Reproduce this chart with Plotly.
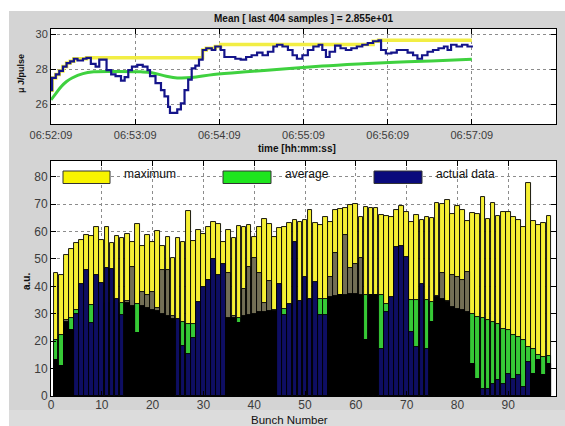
import plotly.graph_objects as go

# ---------------- DATA ----------------
# Top panel: time in seconds after 06:52:09
act_t = [0, 0.8, 3.4, 5.9, 8.5, 11.1, 13.7, 16.3, 18.9, 22.8, 25.3, 28.4, 31.8, 34.4, 37.0, 39.6,
         42.9, 46.0, 49.9, 52.5, 55.1, 57.7, 61.5, 65.4, 68.8, 70.6, 74.5, 78.4, 80.9, 83.5, 84.8,
         87.4, 90.0, 92.6, 95.2, 97.8, 100.3, 102.9, 105.5, 108.1, 110.7, 114.6, 117.1, 121.0,
         123.6, 127.5, 131.4, 135.2, 139.1, 143.0, 146.9, 150.8, 154.6, 158.5, 161.1, 165.0,
         168.9, 172.2, 175.3, 179.2, 183.1, 187.0, 190.8, 193.4, 196.0, 198.6, 202.5, 206.4,
         210.2, 214.1, 218.0, 221.9, 225.8, 229.6, 233.5, 235.3, 238.7, 242.6, 246.5, 250.3,
         254.2, 258.1, 261.2, 264.5, 268.4, 272.3, 276.2, 280.1, 282.7, 285.2, 289.1, 293.0,
         296.9, 300.0]
act_v = [26.8, 27.5, 27.7, 27.9, 28.15, 28.35, 28.45, 28.6, 28.5, 28.6, 28.65, 28.3, 28.15, 28.55,
         28.55, 27.95, 27.7, 27.6, 27.35, 27.55, 27.95, 28.15, 28.25, 28.15, 27.95, 27.6, 27.2,
         26.8, 26.45, 25.85, 25.5, 25.5, 25.7, 26.05, 26.8, 27.4, 28.05, 28.2, 28.55, 29.1, 29.2,
         29.1, 29.3, 29.1, 28.7, 28.7, 28.6, 28.55, 28.7, 28.8, 28.95, 28.8, 29.0, 29.3, 29.4,
         29.3, 29.1, 28.8, 28.6, 28.8, 29.1, 29.3, 29.4, 29.1, 28.7, 29.0, 29.35, 29.2, 29.1,
         29.2, 29.3, 29.4, 29.5, 29.6, 29.65, 29.1, 28.9, 28.95, 29.1, 29.1, 28.95, 28.8, 28.6,
         28.8, 29.0, 29.1, 29.2, 29.3, 29.1, 29.4, 29.3, 29.4, 29.3, 29.35]

max_t = [0, 0.8, 3.4, 5.9, 8.5, 11.1, 13.7, 16.3, 25.3, 108.1, 110.7, 117.1, 121.0, 229.6, 233.5, 300.0]
max_v = [26.8, 27.5, 27.7, 27.9, 28.15, 28.35, 28.45, 28.6, 28.65, 29.1, 29.2, 29.3, 29.42, 29.6, 29.65, 29.65]

avg_t = [0, 3.4, 7.2, 11.1, 15.0, 22.8, 30.5, 46.0, 64.1, 71.9, 82.2, 90.0, 100.3, 115.9, 141.7,
         167.6, 193.4, 219.3, 245.2, 271.0, 300.0]
avg_v = [26.25, 26.6, 27.0, 27.3, 27.5, 27.75, 27.85, 27.87, 27.85, 27.8, 27.6, 27.5, 27.52, 27.7,
         27.87, 28.02, 28.18, 28.3, 28.4, 28.47, 28.57]

time_tickvals = [0, 60, 120, 180, 240, 300, 360]
time_ticklabels = ["06:52:09", "06:53:09", "06:54:09", "06:55:09", "06:56:09", "06:57:09", "06:58:09"]

# Bottom panel: per-bunch values
bunch = list(range(1, 99))
bunch_max = [44.7, 44.3, 51.6, 53.6, 55.9, 56.9, 58.7, 58.5, 61.8, 56.9, 61.8, 55.7, 58.3, 57.6, 59.1,
             56.3, 62.7, 54.7, 58.7, 56.3, 60.3, 54.7, 57.9, 50.5, 57.5, 56.3, 67.6, 56.6, 60.5, 59.0,
             61.5, 63.6, 62.7, 56.3, 60.5, 57.5, 62.0, 61.5, 62.4, 58.1, 61.5, 64.4, 62.7, 58.1, 61.1,
             61.5, 63.0, 64.2, 63.6, 64.2, 67.8, 63.0, 62.4, 65.2, 63.6, 67.8, 68.2, 68.5, 69.5, 70.0,
             65.2, 69.1, 68.5, 68.5, 66.0, 65.7, 65.2, 67.8, 69.3, 67.2, 63.6, 66.0, 64.2, 65.2, 64.8,
             70.3, 69.9, 71.3, 66.4, 69.4, 67.8, 63.8, 66.9, 66.4, 72.5, 64.4, 70.5, 65.7, 67.2, 67.2,
             65.2, 64.2, 61.5, 77.8, 63.9, 62.4, 63.0, 65.7]
bunch_avg = [20.6, 22.4, 27.0, 28.3, 31.5, 31.0, 32.0, 33.1, 33.0, 33.5, 34.0, 34.0, 35.0, 34.0, 34.0,
             33.0, 33.4, 33.0, 32.0, 31.5, 31.0, 30.0, 29.0, 28.0, 27.5, 27.0, 26.4, 26.4, 26.0, 26.0,
             26.5, 27.0, 27.5, 28.0, 28.5, 28.5, 28.5, 29.0, 29.5, 30.0, 30.5, 30.5, 31.0, 31.0, 31.5,
             31.9, 33.0, 33.5, 34.0, 34.5, 35.0, 35.0, 35.2, 35.2, 36.0, 36.4, 36.8, 37.0, 37.1, 37.1,
             36.8, 36.8, 36.8, 36.8, 36.8, 33.7, 35.6, 36.0, 35.8, 35.5, 35.0, 35.0, 35.0, 35.0, 34.3,
             36.2, 35.2, 34.3, 32.5, 31.9, 31.3, 30.8, 30.0, 28.9, 28.3, 27.6, 27.0, 26.4, 24.6, 24.2,
             22.2, 21.6, 20.3, 17.9, 17.3, 14.9, 14.3, 14.5]
bunch_act = [13.3, 11.0, 27.6, 24.0, 30.0, 41.0, 46.0, 26.7, 44.0, 41.3, 46.5, 46.2, 35.5, 29.7, 34.5,
             47.0, 23.0, 38.0, 37.0, 38.0, 32.0, 46.0, 46.0, 29.0, 28.0, 18.3, 15.5, 21.0, 34.1, 39.8,
             42.3, 49.9, 44.1, 48.0, 44.7, 29.0, 26.5, 39.0, 47.0, 50.2, 45.0, 34.0, 42.0, 31.5, 41.0,
             29.5, 33.7, 56.3, 34.5, 43.5, 35.5, 41.7, 29.5, 29.5, 43.5, 52.0, 37.0, 58.7, 46.5, 48.1,
             50.2, 20.3, 37.0, 37.0, 17.3, 30.7, 36.0, 54.4, 54.7, 50.8, 23.4, 17.9, 41.0, 17.3, 27.0,
             36.5, 44.7, 34.5, 44.0, 43.5, 42.3, 45.3, 11.8, 6.3, 2.7, 2.7, 4.5, 5.7, 4.5, 8.2,
             6.3, 7.6, 3.3, 12.4, 8.2, 13.0, 7.6, 11.8]

legend_labels = ["maximum", "average", "actual data"]

# ---------------- STYLE ----------------
W, H = 565, 426
YELLOW = "#f6f033"
GREEN = "#36c936"
NAVY = "#0e0e62"
OLIVE = "#736f55"
PANEL = "#d4d4d4"
FONT = "Liberation Sans, Arial, sans-serif"


def fx(px):
    return px / W


def fy(py):
    return 1 - py / H


# bunches drawn in the "dark" rendering (vs navy stripes)
def is_navy(n):
    return n >= 5 and ((n - 5) % 20) < 10


act_colors = [NAVY if is_navy(n) else OLIVE for n in bunch]
dark_layer = [None if is_navy(n) else min(a, v) for n, a, v in zip(bunch, bunch_avg, bunch_act)]

fig = go.Figure()

# top panel
fig.add_trace(go.Scatter(x=max_t, y=max_v, mode="lines", line=dict(color="#f2ee44", width=3.5, shape="hv"),
                         xaxis="x", yaxis="y", showlegend=False))
fig.add_trace(go.Scatter(x=avg_t, y=avg_v, mode="lines", line=dict(color="#3fd13f", width=3, shape="spline"),
                         xaxis="x", yaxis="y", showlegend=False))
fig.add_trace(go.Scatter(x=act_t, y=act_v, mode="lines", line=dict(color="#14148a", width=2.2, shape="hv"),
                         xaxis="x", yaxis="y", showlegend=False))

# bottom panel
bw = 0.92
edge = dict(color="black", width=0.9)
fig.add_trace(go.Bar(x=bunch, y=bunch_max, width=bw, marker=dict(color=YELLOW, line=edge),
                     xaxis="x2", yaxis="y2", showlegend=False))
fig.add_trace(go.Bar(x=bunch, y=bunch_avg, width=bw, marker=dict(color=GREEN, line=edge),
                     xaxis="x2", yaxis="y2", showlegend=False))
fig.add_trace(go.Bar(x=bunch, y=bunch_act, width=bw, marker=dict(color=act_colors, line=edge),
                     xaxis="x2", yaxis="y2", showlegend=False))
fig.add_trace(go.Bar(x=bunch, y=dark_layer, width=bw, marker=dict(color="black", line=dict(color="black", width=0.9)),
                     xaxis="x2", yaxis="y2", showlegend=False))

axis_common = dict(showline=True, linecolor="black", linewidth=1, mirror="ticks", ticks="inside",
                   ticklen=5, tickcolor="black", showgrid=True, gridcolor="#8c8c8c", griddash="dot",
                   gridwidth=1, zeroline=False, automargin=False,
                   tickfont=dict(family=FONT, size=11, color="#3c3c3c"))

shapes = [
    dict(type="rect", xref="paper", yref="paper", x0=0, x1=1, y0=fy(11), y1=1,
         fillcolor="white", line=dict(width=0), layer="below"),
    dict(type="rect", xref="paper", yref="paper", x0=0, x1=fx(9), y0=0, y1=1,
         fillcolor="white", line=dict(width=0), layer="below"),
    dict(type="rect", xref="paper", yref="paper", x0=fx(9), x1=1, y0=0, y1=fy(410),
         fillcolor="#dcdcdc", line=dict(width=0), layer="below"),
]
# legend swatches
sw_colors = ["#f8f400", "#1ee61e", "#0a0a7c"]
sw_x = [(63, 110), (223, 271), (374, 422)]
txt_x = [122, 283, 434]
annotations = []
for (x0, x1), c, tx, lab in zip(sw_x, sw_colors, txt_x, legend_labels):
    shapes.append(dict(type="rect", xref="paper", yref="paper", x0=fx(x0), x1=fx(x1), y0=fy(183.5), y1=fy(171),
                       fillcolor=c, line=dict(color="#333", width=1), layer="above"))
    annotations.append(dict(text=lab, x=fx(tx), y=fy(174), xref="paper", yref="paper", xanchor="left",
                            yanchor="middle", showarrow=False, font=dict(family=FONT, size=12, color="#111")))


def label(text, px, py, size, angle=0):
    return dict(text=text, x=fx(px), y=fy(py), xref="paper", yref="paper", xanchor="center",
                yanchor="middle", textangle=angle, showarrow=False,
                font=dict(family=FONT, size=size, color="#111"))


annotations += [
    label("<b>Mean [ last 404 samples ] = 2.855e+01</b>", 303, 19, 10),
    label("<b>μ J/pulse</b>", 21, 74, 9, -90),
    label("<b>time [hh:mm:ss]</b>", 297, 148, 10),
    label("<b>a.u.</b>", 26, 282, 10, -90),
    label("Bunch Number", 289, 420, 11.5),
]

fig.update_layout(
    width=W, height=H, margin=dict(l=0, r=0, t=0, b=0, autoexpand=False),
    paper_bgcolor=PANEL, plot_bgcolor="white", barmode="overlay", bargap=0,
    showlegend=False,
    xaxis=dict(domain=[fx(51), fx(556)], anchor="y", range=[0, 360], tickvals=time_tickvals,
               ticktext=time_ticklabels, **axis_common),
    yaxis=dict(domain=[fy(124.3), fy(29)], anchor="x", range=[24.85, 30.3], tickvals=[26, 28, 30],
               **axis_common),
    xaxis2=dict(domain=[fx(51), fx(556)], anchor="y2", range=[0, 99.4], tick0=0, dtick=10,
                ticklabelstandoff=-2,
                **{**axis_common, "tickfont": dict(family=FONT, size=12, color="#3c3c3c")}),
    yaxis2=dict(domain=[fy(396), fy(161)], anchor="x2", range=[0, 85.7], tick0=0, dtick=10,
                **{**axis_common, "tickfont": dict(family=FONT, size=12, color="#3c3c3c")}),
    shapes=shapes, annotations=annotations,
)

fig.write_html("out.html", post_script="document.body.style.margin='0';")
